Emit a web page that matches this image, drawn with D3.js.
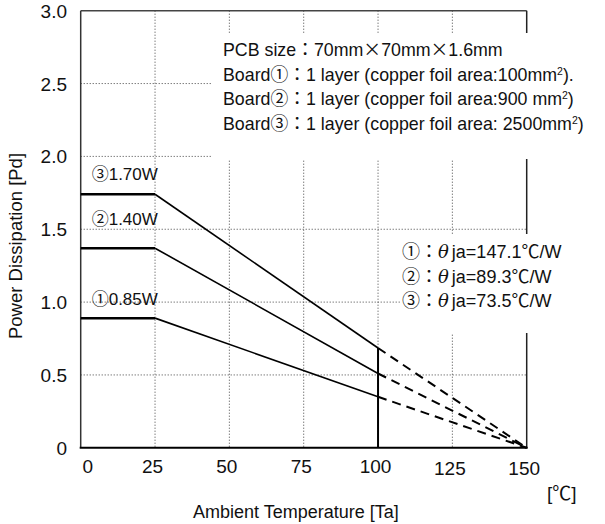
<!DOCTYPE html>
<html>
<head>
<meta charset="utf-8">
<script src="https://cdn.jsdelivr.net/npm/d3@7"></script>
<style>
  body { margin: 0; background: #fff; }
  text { font-family: "Liberation Sans", Arial, "Noto Sans CJK JP", sans-serif; fill: #111; }
  .cjk { font-family: "Noto Sans CJK JP", sans-serif; }
</style>
</head>
<body>
<svg id="chart" width="605" height="524"></svg>
<script>
// data
const tempTicks = [0, 25, 50, 75, 100, 125, 150];
const pdTicks = [0, 0.5, 1.0, 1.5, 2.0, 2.5, 3.0];
const boards = ["①", "②", "③"];
const plateauPd = [0.89, 1.37, 1.74];     // Pd from 0 to 25 ℃
const pdAt100 = [0.35, 0.51, 0.685];      // Pd at 100 ℃
const tempBreaks = [0, 25, 100, 150];
const ratedLabels = ["①0.85W", "②1.40W", "③1.70W"];
const thetaJa = ["147.1", "89.3", "73.5"];
const pcbNotes = [
  "PCB size：70mm×70mm×1.6mm",
  "Board①：1 layer (copper foil area:100mm^2).",
  "Board②：1 layer (copper foil area:900 mm^2)",
  "Board③：1 layer (copper foil area: 2500mm^2)"
];

const svg = d3.select("#chart");

const x = d3.scaleLinear().domain([0, 150]).range([80.7, 526.7]);
const y = d3.scaleLinear().domain([0, 3]).range([447.8, 10.7]);

/* grid */
const grid = svg.append("g")
  .attr("stroke", "#444")
  .attr("stroke-width", 1)
  .attr("stroke-dasharray", "1,2");

grid.selectAll(".vg")
  .data(tempTicks.filter(d => d > 0 && d < 150))
  .join("line")
  .attr("x1", d => x(d)).attr("x2", d => x(d))
  .attr("y1", y(3)).attr("y2", y(0));

grid.selectAll(".hg")
  .data(pdTicks.filter(d => d > 0 && d < 3))
  .join("line")
  .attr("x1", x(0)).attr("x2", x(150))
  .attr("y1", d => y(d)).attr("y2", d => y(d));

/* frame */
svg.append("line")
  .attr("x1", x(0)).attr("x2", x(150)).attr("y1", y(3)).attr("y2", y(3))
  .attr("stroke", "#444").attr("stroke-width", 1.5);
svg.append("line")
  .attr("x1", x(150)).attr("x2", x(150)).attr("y1", y(3)).attr("y2", y(0))
  .attr("stroke", "#222").attr("stroke-width", 1.5);
svg.append("line")
  .attr("x1", x(0)).attr("x2", x(0)).attr("y1", y(3)).attr("y2", y(0))
  .attr("stroke", "#333").attr("stroke-width", 1.5);

/* white note boxes hide grid */
svg.append("rect").attr("x", 212).attr("y", 33).attr("width", 330).attr("height", 126).attr("fill", "#fff");
svg.append("rect").attr("x", 401).attr("y", 234).attr("width", 140).attr("height", 99).attr("fill", "#fff");

/* derating curves */
const line = d3.line().x(d => x(d[0])).y(d => y(d[1]));

boards.forEach((b, i) => {
  svg.append("path")
    .datum([[tempBreaks[0], plateauPd[i]], [tempBreaks[1], plateauPd[i]]])
    .attr("d", line).attr("fill", "none")
    .attr("stroke", "#000").attr("stroke-width", 2.5);
  svg.append("path")
    .datum([[tempBreaks[1], plateauPd[i]], [tempBreaks[2], pdAt100[i]]])
    .attr("d", line).attr("fill", "none")
    .attr("stroke", "#000").attr("stroke-width", 1.6);
  svg.append("path")
    .datum([[tempBreaks[2], pdAt100[i]], [tempBreaks[3], 0]])
    .attr("d", line).attr("fill", "none")
    .attr("stroke", "#000").attr("stroke-width", 2)
    .attr("stroke-dasharray", "9,6");
});

// Ta = 100 vertical
svg.append("line")
  .attr("x1", x(100)).attr("x2", x(100))
  .attr("y1", y(d3.max(pdAt100))).attr("y2", y(0))
  .attr("stroke", "#000").attr("stroke-width", 2);

// baseline
svg.append("line")
  .attr("x1", x(0) - 1).attr("x2", x(150) + 1).attr("y1", y(0)).attr("y2", y(0))
  .attr("stroke", "#000").attr("stroke-width", 2);

/* curve labels */
const labelLift = [13, 23, 14];
svg.selectAll(".rl")
  .data(ratedLabels)
  .join("text")
  .attr("x", x(0) + 11)
  .attr("y", (d, i) => y(plateauPd[i]) - labelLift[i])
  .attr("font-size", 17)
  .text(d => d);

/* axes labels */
svg.selectAll(".yt")
  .data(pdTicks)
  .join("text")
  .attr("x", 67)
  .attr("y", d => y(d) + 7)
  .attr("text-anchor", "end")
  .attr("font-size", 19)
  .text(d => d === 0 ? "0" : d.toFixed(1));

svg.selectAll(".xt")
  .data(tempTicks)
  .join("text")
  .attr("x", d => x(d) + (d === 0 ? 7 : -2.5))
  .attr("y", d => d >= 125 ? 475 : 473)
  .attr("text-anchor", "middle")
  .attr("font-size", 19)
  .text(d => d);

svg.append("text")
  .attr("x", 547).attr("y", 500)
  .attr("font-size", 19)
  .text("[℃]");

svg.append("text")
  .attr("x", 193).attr("y", 518)
  .attr("font-size", 18)
  .text("Ambient Temperature [Ta]");

svg.append("text")
  .attr("transform", "translate(21.5,246) rotate(-90)")
  .attr("text-anchor", "middle")
  .attr("font-size", 18.5)
  .text("Power Dissipation [Pd]");

/* notes */
function addRuns(txt, s) {
  // ^2 -> superscript, × and ： in the CJK face
  s.split(/(\^2|×|：)/).forEach(p => {
    if (!p) return;
    if (p === "^2") {
      txt.append("tspan")
        .attr("font-size", 10.5)
        .attr("baseline-shift", "6")
        .text("2");
    } else if (p === "×" || p === "：") {
      txt.append("tspan").attr("class", "cjk").text(p);
    } else {
      txt.append("tspan").text(p);
    }
  });
}

pcbNotes.forEach((t, i) => {
  const txt = svg.append("text")
    .attr("x", 223).attr("y", 56 + i * 24.5)
    .attr("font-size", 17.8);
  addRuns(txt, t);
});

thetaJa.forEach((v, i) => {
  const txt = svg.append("text")
    .attr("x", 402).attr("y", 258 + i * 24.5)
    .attr("font-size", 18);
  addRuns(txt, boards[i] + "：");
  txt.append("tspan").attr("font-style", "italic").attr("font-family", "'DejaVu Serif', serif").text("θ");
  txt.append("tspan").attr("dx", 3).text("ja=" + v + "℃/W");
});
</script>
</body>
</html>
